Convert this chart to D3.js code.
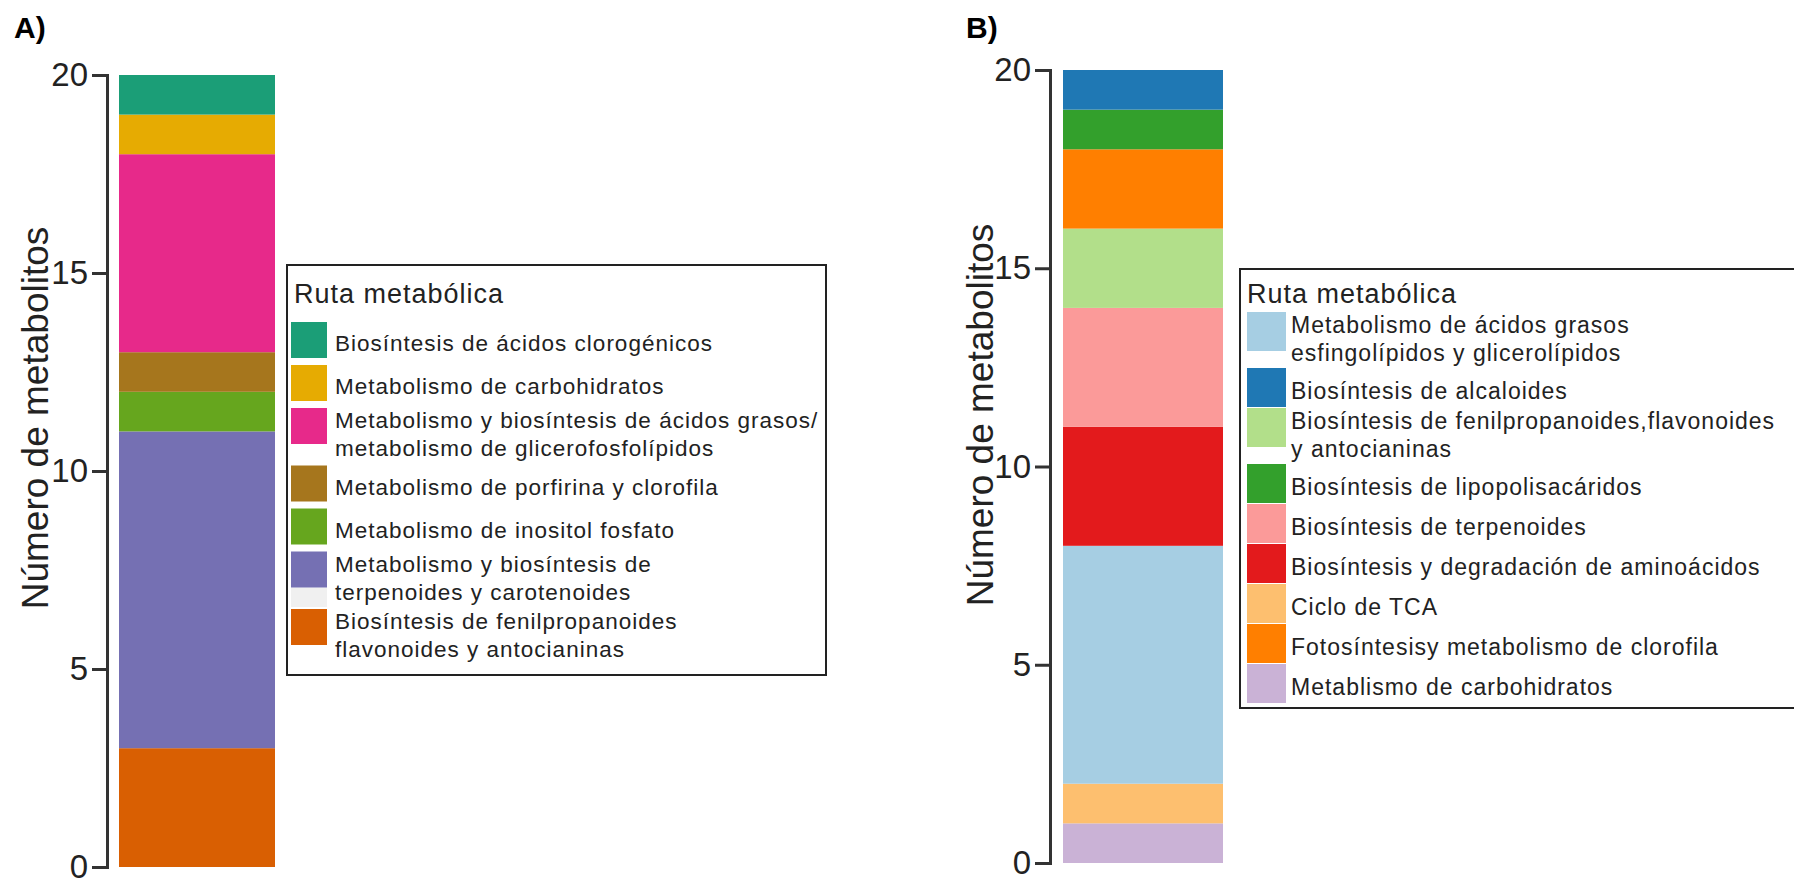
<!DOCTYPE html>
<html>
<head>
<meta charset="utf-8">
<script src="https://cdn.jsdelivr.net/npm/d3@7"></script>
<style>
  html, body { margin: 0; padding: 0; background: #fff; }
  svg { display: block; font-family: "Liberation Sans", Arial, Helvetica, sans-serif; }
</style>
</head>
<body>
<svg id="chart" width="1794" height="884"></svg>
<script>
// ---- Panel A: metabolic pathways (legend order, top to bottom) ----
const categoriesA = [
  "Biosíntesis de ácidos clorogénicos",
  "Metabolismo de carbohidratos",
  "Metabolismo y biosíntesis de ácidos grasos/\nmetabolismo de glicerofosfolípidos",
  "Metabolismo de porfirina y clorofila",
  "Metabolismo de inositol fosfato",
  "Metabolismo y biosíntesis de\nterpenoides y carotenoides",
  "Biosíntesis de fenilpropanoides\nflavonoides y antocianinas"
];
const valuesA = [1, 1, 5, 1, 1, 8, 3];
const coloursA = ["#1b9e77", "#e6ab02", "#e7298a", "#a6761d", "#66a61e", "#7570b3", "#d95f02"];
// stacking order, bottom to top
const stackOrderA = categoriesA.slice().reverse();

// ---- Panel B: metabolic pathways (legend order, top to bottom) ----
const categoriesB = [
  "Metabolismo de ácidos grasos\nesfingolípidos y glicerolípidos",
  "Biosíntesis de alcaloides",
  "Biosíntesis de fenilpropanoides,flavonoides\ny antocianinas",
  "Biosíntesis de lipopolisacáridos",
  "Biosíntesis de terpenoides",
  "Biosíntesis y degradación de aminoácidos",
  "Ciclo de TCA",
  "Fotosíntesisy metabolismo de clorofila",
  "Metablismo de carbohidratos"
];
const valuesB = [6, 1, 2, 1, 3, 3, 1, 2, 1];
const coloursB = ["#a6cee3", "#1f78b4", "#b2df8a", "#33a02c", "#fb9a99", "#e31a1c", "#fdbf6f", "#ff7f00", "#cab2d6"];
// stacking order, bottom to top
const stackOrderB = [
  "Metablismo de carbohidratos",
  "Ciclo de TCA",
  "Metabolismo de ácidos grasos\nesfingolípidos y glicerolípidos",
  "Biosíntesis y degradación de aminoácidos",
  "Biosíntesis de terpenoides",
  "Biosíntesis de fenilpropanoides,flavonoides\ny antocianinas",
  "Fotosíntesisy metabolismo de clorofila",
  "Biosíntesis de lipopolisacáridos",
  "Biosíntesis de alcaloides"
];

const yTicks = [0, 5, 10, 15, 20];
const yTitle = "Número de metabolitos";
const legendTitle = "Ruta metabólica";

const svg = d3.select("#chart");
const TEXT = "#222";
const AXIS = "#333";

function drawPanel(cfg, categories, values, colours, stackOrder) {
  const g = svg.append("g");
  const colour = d3.scaleOrdinal().domain(categories).range(colours);

  // panel letter
  g.append("text")
    .attr("x", cfg.labelX).attr("y", cfg.labelY)
    .attr("font-size", 30).attr("font-weight", "bold").attr("fill", "#000")
    .text(cfg.label);

  const y = d3.scaleLinear().domain([0, 20]).range([cfg.y0, cfg.y20]);
  const x = d3.scaleBand().domain(["total"]).range([cfg.barX0, cfg.barX1]).padding(0);

  // stacked bar
  const row = {};
  categories.forEach((c, i) => { row[c] = values[i]; });
  const series = d3.stack().keys(stackOrder)([row]);
  g.append("g").selectAll("rect")
    .data(series)
    .join("rect")
    .attr("x", x("total"))
    .attr("width", x.bandwidth())
    .attr("y", d => y(d[0][1]))
    .attr("height", d => y(d[0][0]) - y(d[0][1]))
    .attr("fill", d => colour(d.key));

  // y axis
  const axis = g.append("g")
    .attr("transform", `translate(${cfg.axisX},0)`)
    .call(d3.axisLeft(y).tickValues(yTicks).tickSize(15).tickSizeOuter(15).tickPadding(4));
  axis.select(".domain").attr("stroke", AXIS).attr("stroke-width", 3);
  axis.selectAll(".tick line").attr("stroke", AXIS).attr("stroke-width", 3);
  axis.selectAll(".tick text")
    .attr("font-size", 33).attr("fill", TEXT)
    .attr("font-family", "'Liberation Sans', Arial, sans-serif");

  g.append("text")
    .attr("transform", `translate(${cfg.titleX},${cfg.titleY}) rotate(-90)`)
    .attr("text-anchor", "middle")
    .attr("font-size", 37).attr("fill", TEXT)
    .text(yTitle);

  // legend
  const L = cfg.legend;
  const lg = g.append("g");
  lg.append("rect")
    .attr("x", L.x).attr("y", L.y).attr("width", L.w).attr("height", L.h)
    .attr("fill", "#fff").attr("stroke", "#222").attr("stroke-width", 2);
  lg.append("text")
    .attr("x", L.titleX).attr("y", L.titleY)
    .attr("font-size", L.titleSize).attr("letter-spacing", 1).attr("fill", TEXT)
    .text(legendTitle);

  let top = L.rowsTop;
  categories.forEach((c, i) => {
    const lines = c.split("\n");
    const next = top + L.pitch + (lines.length - 1) * L.extra;
    if (L.fillerAfter === i) {
      // pale key slot left between two rows
      lg.append("rect")
        .attr("x", L.swX).attr("y", top + L.swH).attr("width", L.swW)
        .attr("height", next - top - L.swH - 2)
        .attr("fill", "#f0f0f0");
    }
    lg.append("rect")
      .attr("x", L.swX).attr("y", top).attr("width", L.swW).attr("height", L.swH)
      .attr("fill", colour(c));
    const t = lg.append("text")
      .attr("font-size", L.fontSize).attr("letter-spacing", L.spacing).attr("fill", TEXT);
    if (lines.length === 1) {
      t.append("tspan").attr("x", L.textX).attr("y", top + L.singleBase).text(lines[0]);
    } else {
      lines.forEach((ln, k) => {
        t.append("tspan").attr("x", L.textX).attr("y", top + L.multiBase + k * L.lineGap).text(ln);
      });
    }
    top = next;
  });
}

drawPanel({
  label: "A)", labelX: 14, labelY: 38,
  y0: 867, y20: 75, axisX: 107, barX0: 119, barX1: 275,
  titleX: 48, titleY: 418,
  legend: {
    x: 287, y: 265, w: 539, h: 410, titleX: 294, titleY: 303, titleSize: 27,
    rowsTop: 322, swX: 291, swW: 36, swH: 36, textX: 335,
    fontSize: 22.5, spacing: 1, pitch: 43, extra: 14.5, singleBase: 29, multiBase: 20, lineGap: 28,
    fillerAfter: 5
  }
}, categoriesA, valuesA, coloursA, stackOrderA);

drawPanel({
  label: "B)", labelX: 966, labelY: 38,
  y0: 863, y20: 70, axisX: 1050, barX0: 1063, barX1: 1223,
  titleX: 993, titleY: 415,
  legend: {
    x: 1240, y: 269, w: 600, h: 439, titleX: 1247, titleY: 303, titleSize: 27,
    rowsTop: 312, swX: 1247, swW: 39, swH: 39, textX: 1291,
    fontSize: 23, spacing: 1, pitch: 40, extra: 16, singleBase: 31, multiBase: 21, lineGap: 28
  }
}, categoriesB, valuesB, coloursB, stackOrderB);
</script>
</body>
</html>
